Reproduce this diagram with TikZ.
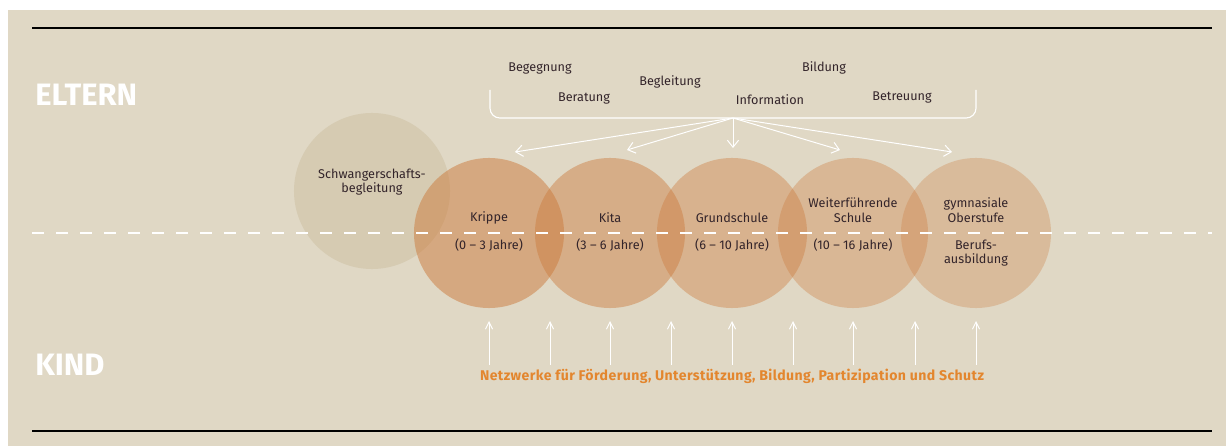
\documentclass[tikz,border=0pt]{standalone}
\usepackage{fontspec}
\setmainfont{Fira Sans}
\usetikzlibrary{arrows.meta}

\definecolor{bgbeige}{HTML}{E0D8C5}
\definecolor{phaseorange}{HTML}{CC7A3C}
\definecolor{phasegray}{HTML}{BFAE88}
\definecolor{textdark}{HTML}{33242A}
\definecolor{netorange}{HTML}{E3862E}

\tikzset{
  phase/.style={circle, minimum size=3.75cm, inner sep=0pt, fill=phaseorange},
  phasetext/.style={text=textdark, font=\fontsize{9}{10.5}\selectfont, align=center, inner sep=0pt},
  offer/.style={text=textdark, font=\fontsize{9}{10}\selectfont, inner sep=0pt},
  side/.style={text=white, font=\bfseries\fontsize{22}{24}\selectfont, anchor=west, inner sep=0pt},
  arr/.style={white, line width=0.7pt, -{Straight Barb[length=5pt,width=8pt]}},
  uparr/.style={white, line width=0.7pt, -{Straight Barb[length=5pt,width=5pt]}}
}

\begin{document}
\begin{tikzpicture}[x=0.025cm, y=-0.025cm]
    \useasboundingbox (0,0) rectangle (1226,446);

    % Background
    \fill[bgbeige] (8,10) rectangle (1226,446);
    \draw[black, line width=1pt] (32,28) -- (1212,28);
    \draw[black, line width=1pt] (32,431) -- (1212,431);

    % Phases
    \node[phase, minimum size=3.9cm, fill=phasegray, fill opacity=0.3] (schwanger) at (372,191) {};
    \node[phase, fill opacity=0.5]  (krippe) at (489,233) {};
    \node[phase, fill opacity=0.45] (kita)   at (610,233) {};
    \node[phase, fill opacity=0.4]  (grund)  at (732,233) {};
    \node[phase, fill opacity=0.35] (weiter) at (853,233) {};
    \node[phase, fill opacity=0.3]  (gym)    at (976,233) {};

    % Dashed divider
    \draw[white, line width=0.8pt, dash pattern=on 0.3cm off 0.3cm] (32,233) -- (1212,233);

    % Phase labels
    \node[phasetext] (schwangerTxt) at (372,182) {Schwangerschafts-\\begleitung};
    \node[phasetext] (krippeTxt) at (489,218) {Krippe};
    \node[phasetext] (krippeAge) at (489,245) {(0 – 3 Jahre)};
    \node[phasetext] (kitaTxt) at (610,218) {Kita};
    \node[phasetext] (kitaAge) at (610,245) {(3 – 6 Jahre)};
    \node[phasetext] (grundTxt) at (732,218) {Grundschule};
    \node[phasetext] (grundAge) at (732,245) {(6 – 10 Jahre)};
    \node[phasetext] (weiterTxt) at (853,210) {Weiterführende\\Schule};
    \node[phasetext] (weiterAge) at (853,245) {(10 – 16 Jahre)};
    \node[phasetext] (gymTxt) at (976,210) {gymnasiale\\Oberstufe};
    \node[phasetext] (berufTxt) at (976,253) {Berufs-\\ausbildung};

    % Side labels
    \node[side] (eltern) at (35,95) {ELTERN};
    \node[side] (kind) at (35,365) {KIND};

    % Offers for parents
    \node[offer] (begegnung) at (540,68) {Begegnung};
    \node[offer] (beratung) at (584,98) {Beratung};
    \node[offer] (begleitung) at (670,82) {Begleitung};
    \node[offer] (bildung) at (824,68) {Bildung};
    \node[offer] (information) at (770,100) {Information};
    \node[offer] (betreuung) at (902,97) {Betreuung};

    % Brace and arrows
    \draw[white, line width=0.8pt, rounded corners=7pt] (490,90) -- (490,118) -- (976,118) -- (976,90);
    \coordinate (hub) at (733,118);
    \coordinate (t1) at (515,152);
    \coordinate (t2) at (627,150);
    \coordinate (t3) at (733,148);
    \coordinate (t4) at (840,150);
    \coordinate (t5) at (952,152);
    \foreach \t in {t1,t2,t3,t4,t5}
        \draw[arr] (hub) -- (\t);

    % Networks for the child
    \foreach \x [count=\i] in {489,550,610,671,732,793,853,915,976} {
        \coordinate (n\i b) at (\x,365);
        \coordinate (n\i t) at (\x,321);
        \draw[uparr] (n\i b) -- (n\i t);
    }
    \node[text=netorange, font=\bfseries\fontsize{10}{12}\selectfont\addfontfeature{LetterSpace=3}, inner sep=0pt] (netz) at (732,376)
        {Netzwerke für Förderung, Unterstützung, Bildung, Partizipation und Schutz};
\end{tikzpicture}
\end{document}
